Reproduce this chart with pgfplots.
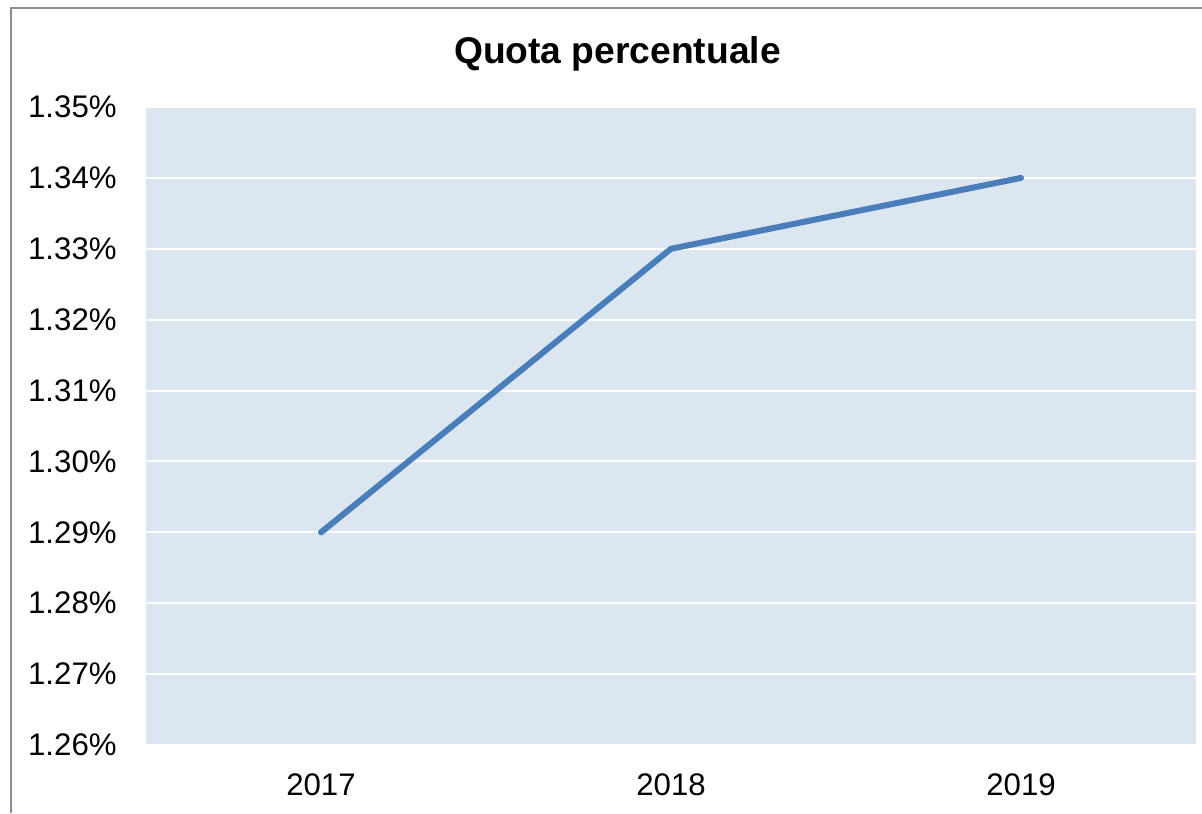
\documentclass[border=0pt]{standalone}
\usepackage{pgfplots}
\pgfplotsset{compat=1.18}
\usepackage{fontspec}
\setmainfont{Liberation Sans}
\definecolor{plotbg}{HTML}{DCE6F1}
\definecolor{lineblue}{HTML}{4A7EBB}
\definecolor{framegray}{HTML}{8C8C8C}
\begin{document}
\begin{tikzpicture}[x=1pt,y=1pt]
\path[use as bounding box] (0,0) rectangle (601,406.5);
\draw[framegray, line width=1pt] (5.5,0) -- (5.5,402.5) -- (601,402.5);
\node[anchor=base, font=\fontsize{18.6}{22}\selectfont\bfseries] at (308.75,374.5) {Quota percentuale};
\begin{axis}[
  at={(73pt,34pt)}, anchor=south west,
  scale only axis, width=525pt, height=319pt,
  xmin=-0.5, xmax=2.5, ymin=1.26, ymax=1.35,
  xtick={0,1,2}, xticklabels={2017,2018,2019},
  ytick={1.26,1.27,1.28,1.29,1.30,1.31,1.32,1.33,1.34,1.35},
  yticklabels={1.26\%,1.27\%,1.28\%,1.29\%,1.30\%,1.31\%,1.32\%,1.33\%,1.34\%,1.35\%},
  axis line style={draw=none},
  major tick length=0pt,
  tick style={draw=none},
  axis background/.style={fill=plotbg},
  ymajorgrids, major grid style={white, line width=1pt},
  ticklabel style={font=\fontsize{15.6}{18}\selectfont, inner sep=0pt},
  yticklabel style={anchor=east, xshift=-14.5pt},
  xticklabel style={anchor=center, yshift=-19.75pt},
  clip=false,
]
\addplot[lineblue, line width=3pt, line cap=round, line join=round] coordinates {(0,1.29) (1,1.33) (2,1.34)};
\end{axis}
\end{tikzpicture}
\end{document}
